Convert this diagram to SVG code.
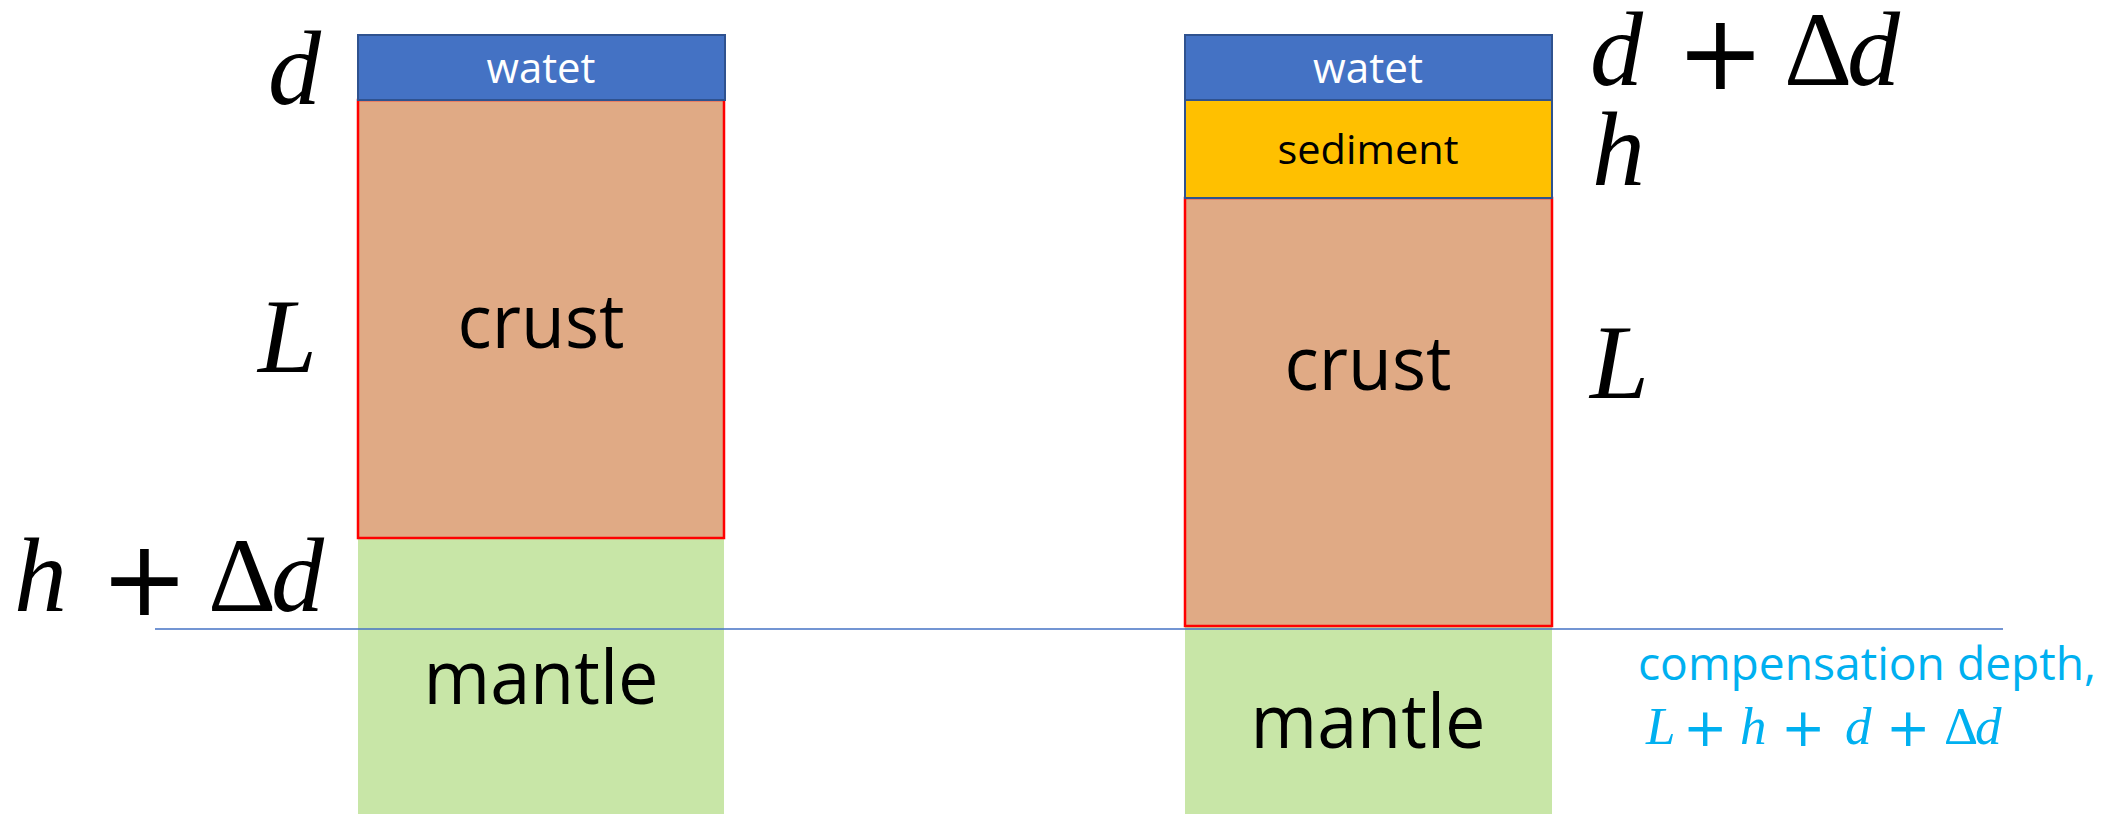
<svg xmlns="http://www.w3.org/2000/svg" width="2111" height="814" viewBox="0 0 2111 814">
  <style>
    .water { fill: #4472C4; stroke: #2F528F; stroke-width: 2; }
    .sediment { fill: #FFC000; stroke: #2F528F; stroke-width: 2; }
    .crust { fill: #E0AA85; stroke: #FF0000; stroke-width: 2.5; }
    .mantle { fill: #C8E6A7; }
    .lbl { font-family: "Open Sans", "Liberation Sans", sans-serif; text-anchor: middle; fill: #000; }
    .lbl-w { fill: #FFFFFF; }
    .math { font-family: "Liberation Serif", "DejaVu Serif", serif; font-style: italic; font-size: 106px; fill: #000; }
    .up { font-style: normal; }
    .plus { font-family: "DejaVu Sans", sans-serif; font-style: normal; }
    .cyan { fill: #00B0F0; }
    .depth { stroke: #4472C4; stroke-width: 1.6; fill: none; }
  </style>

  <!-- left column: water over crust over mantle -->
  <g id="left-mantle">
    <rect class="mantle" x="358" y="538" width="366" height="276"/>
    <text class="lbl" x="541" y="704" font-size="75" textLength="235" lengthAdjust="spacingAndGlyphs">mantle</text>
  </g>
  <g id="left-crust">
    <rect class="crust" x="358" y="100" width="366" height="438"/>
    <text class="lbl" x="541" y="348" font-size="75" textLength="167" lengthAdjust="spacingAndGlyphs">crust</text>
  </g>
  <g id="left-water">
    <rect class="water" x="358" y="35" width="367" height="65"/>
    <text class="lbl lbl-w" x="541" y="83" font-size="42" textLength="109" lengthAdjust="spacingAndGlyphs">watet</text>
  </g>

  <!-- right column: water, sediment, crust, mantle -->
  <g id="right-mantle">
    <rect class="mantle" x="1185" y="626" width="367" height="188"/>
    <text class="lbl" x="1368" y="748" font-size="75" textLength="235" lengthAdjust="spacingAndGlyphs">mantle</text>
  </g>
  <g id="right-crust">
    <rect class="crust" x="1185" y="198" width="367" height="428"/>
    <text class="lbl" x="1368" y="390" font-size="75" textLength="167" lengthAdjust="spacingAndGlyphs">crust</text>
  </g>
  <g id="right-sediment">
    <rect class="sediment" x="1185" y="100" width="367" height="98"/>
    <text class="lbl" x="1368" y="164" font-size="41" textLength="181" lengthAdjust="spacingAndGlyphs">sediment</text>
  </g>
  <g id="right-water">
    <rect class="water" x="1185" y="35" width="367" height="65"/>
    <text class="lbl lbl-w" x="1368" y="83" font-size="42" textLength="110" lengthAdjust="spacingAndGlyphs">watet</text>
  </g>

  <!-- compensation depth line -->
  <g id="connectors">
    <line class="depth" x1="155" y1="629" x2="2003" y2="629"/>
  </g>

  <!-- left thickness labels -->
  <g id="left-labels">
    <text class="math" x="268" y="104">d</text>
    <text class="math" x="258" y="372">L</text>
    <text class="math" y="611"><tspan x="14">h</tspan><tspan class="plus" x="100" dy="4">+</tspan><tspan class="up" x="208" dy="-4">Δ</tspan><tspan x="271">d</tspan></text>
  </g>

  <!-- right thickness labels -->
  <g id="right-labels">
    <text class="math" y="85"><tspan x="1590">d</tspan><tspan class="plus" x="1676" dy="4">+</tspan><tspan class="up" x="1784" dy="-4">Δ</tspan><tspan x="1847">d</tspan></text>
    <text class="math" x="1592" y="185">h</text>
    <text class="math" x="1590" y="398">L</text>
  </g>

  <!-- compensation depth annotation -->
  <g id="compensation-label">
    <text class="lbl cyan" x="1638" y="680" font-size="46" style="text-anchor:start" textLength="458" lengthAdjust="spacingAndGlyphs">compensation depth,</text>
    <text class="math cyan" y="744" style="font-size:53px"><tspan x="1646">L</tspan><tspan class="plus" x="1683" dy="2">+</tspan><tspan x="1740" dy="-2">h</tspan><tspan class="plus" x="1781" dy="2">+</tspan><tspan x="1845" dy="-2">d</tspan><tspan class="plus" x="1886" dy="2">+</tspan><tspan class="up" x="1944" dy="-2">Δ</tspan><tspan x="1975">d</tspan></text>
  </g>
</svg>
